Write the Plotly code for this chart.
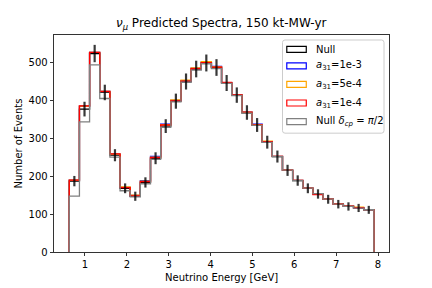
import numpy as np
import plotly.graph_objects as go

# Energy binning (GeV)
bin_low = 0.625
bin_high = 7.9
n_bins = 30

# Event counts per bin
null_counts = [187.5, 378, 525, 422, 256, 168.5, 147.5, 184, 248, 333, 399, 451, 484, 500, 488,
               447, 415, 369, 336, 290.5, 252.5, 216, 189, 168.5, 153.5, 139.5, 126.5, 120.5, 116.5, 111.5]
a31_1e3 = [190, 386, 528, 424.5, 259, 171, 149.5, 189, 253, 338.5, 401, 453, 486, 502, 491,
           448, 416, 369.5, 338, 292, 253, 216.5, 189.5, 169, 153.5, 140, 127, 121, 117, 112]
a31_5e4 = [190, 386, 528, 424.5, 259, 172.5, 150.5, 187.5, 251, 337, 402.5, 454.5, 487, 503.5, 489.5,
           448, 416, 369.5, 337, 293, 253, 216.5, 189.5, 169, 153.5, 140, 127, 121, 118.5, 112]
a31_1e4 = [190, 386.5, 528, 425, 259.5, 170.5, 148.5, 186, 249.5, 336, 400, 452, 485, 501, 489,
           448.5, 416.5, 370, 336.5, 292, 253, 216.5, 189.5, 169, 152, 140, 127, 121, 117, 112]
null_dcp = [148, 344, 495, 406, 251, 162, 146, 180.5, 245, 330, 397, 449, 481, 498, 485,
            446, 414, 367, 335, 290, 252.5, 216.5, 189, 168.8, 154.5, 139.7, 126.5, 120.5, 116, 111.7]

series_names = ["Null", "<i>a</i><sub>31</sub>=1e-3", "<i>a</i><sub>31</sub>=5e-4",
                "<i>a</i><sub>31</sub>=1e-4", "Null <i>δ</i><sub><i>cp</i></sub> = <i>π</i>/2"]
series_vals = [null_counts, a31_1e3, a31_5e4, a31_1e4, null_dcp]
series_colors = ["#000000", "#0000ff", "#ffa500", "#ff0000", "#808080"]

x_ticks = [1, 2, 3, 4, 5, 6, 7, 8]
y_ticks = [0, 100, 200, 300, 400, 500]

edges = np.linspace(bin_low, bin_high, n_bins + 1)
centers = 0.5 * (edges[:-1] + edges[1:])

FONT = "DejaVu Sans"
fig = go.Figure()

for name, vals, col in zip(series_names, series_vals, series_colors):
    xs = [edges[0]] + list(edges[:-1]) + [edges[-1]]
    ys = [0] + list(vals) + [0]
    fig.add_trace(go.Scatter(x=xs, y=ys, mode="lines", line=dict(color=col, width=1.3, shape="hv"),
                             name=name, showlegend=False, hoverinfo="skip"))

fig.add_trace(go.Scatter(
    x=centers, y=null_counts, mode="markers",
    marker=dict(size=1, color="rgba(0,0,0,0)"),
    error_y=dict(type="data", array=list(np.sqrt(null_counts)), width=0, thickness=2.2,
                 color="rgba(0,0,0,0.78)"),
    showlegend=False, hoverinfo="skip"))

# geometry helpers (pixels -> paper)
L, R, T, B = 54, 389.3, 35, 252.3
W, H = R - L, B - T
def px(x):
    return (x - L) / W
def py(y):
    return (B - y) / H

shapes = []
annotations = []

# legend box with rounded corners
bx0, bx1, by0, by1 = 282.7, 384.3, 40, 133.3
r = 2.5
path = (f"M {px(bx0 + r)} {py(by0)} L {px(bx1 - r)} {py(by0)} Q {px(bx1)} {py(by0)} {px(bx1)} {py(by0 + r)} "
        f"L {px(bx1)} {py(by1 - r)} Q {px(bx1)} {py(by1)} {px(bx1 - r)} {py(by1)} "
        f"L {px(bx0 + r)} {py(by1)} Q {px(bx0)} {py(by1)} {px(bx0)} {py(by1 - r)} "
        f"L {px(bx0)} {py(by0 + r)} Q {px(bx0)} {py(by0)} {px(bx0 + r)} {py(by0)} Z")
shapes.append(dict(type="path", xref="paper", yref="paper", path=path,
                   line=dict(color="#cccccc", width=1), fillcolor="rgba(255,255,255,0.8)", layer="above"))
entry_y = [49.3, 65.9, 84.4, 103.1, 121.7]
for yy, name, col in zip(entry_y, series_names, series_colors):
    shapes.append(dict(type="rect", xref="paper", yref="paper",
                       x0=px(287), x1=px(306.5), y0=py(yy - 3), y1=py(yy + 3),
                       line=dict(color=col, width=1.2), fillcolor="rgba(0,0,0,0)", layer="above"))
    annotations.append(dict(xref="paper", yref="paper", x=px(314.5), y=py(yy), text=name,
                            showarrow=False, xanchor="left", yanchor="middle",
                            font=dict(family=FONT, size=10, color="black")))

annotations.append(dict(xref="paper", yref="paper", x=0.5, y=py(277.5), text="Neutrino Energy [GeV]",
                        showarrow=False, xanchor="center", yanchor="middle",
                        font=dict(family=FONT, size=10, color="black")))
annotations.append(dict(xref="paper", yref="paper", x=px(18), y=0.5, text="Number of Events",
                        showarrow=False, xanchor="center", yanchor="middle", textangle=-90,
                        font=dict(family=FONT, size=10, color="black")))
annotations.append(dict(xref="paper", yref="paper", x=0.5, y=py(23.5),
                        text="<i>ν</i><sub><i>μ</i></sub> Predicted Spectra, 150 kt-MW-yr",
                        showarrow=False, xanchor="center", yanchor="middle",
                        font=dict(family=FONT, size=12, color="black")))

axis_common = dict(showgrid=False, zeroline=False, showline=True, mirror=True, linecolor="black",
                   linewidth=0.8, ticks="outside", ticklen=3.5, tickwidth=0.8, tickcolor="black",
                   tickfont=dict(family=FONT, size=10, color="black"))

fig.update_layout(
    width=432, height=288, autosize=False,
    margin=dict(l=L, r=432 - R, t=T, b=288 - B, pad=0),
    paper_bgcolor="white", plot_bgcolor="white",
    xaxis=dict(range=[0.26, 8.262], tickvals=x_ticks, fixedrange=True, **axis_common),
    yaxis=dict(range=[0, 574], tickvals=y_ticks, fixedrange=True, **axis_common),
    shapes=shapes, annotations=annotations, showlegend=False, hovermode=False,
)

fig.write_html("out.html", config={"displayModeBar": False, "staticPlot": True},
               post_script="document.body.style.margin='0px';document.body.style.padding='0px';"
                           "document.body.style.overflow='hidden';")
